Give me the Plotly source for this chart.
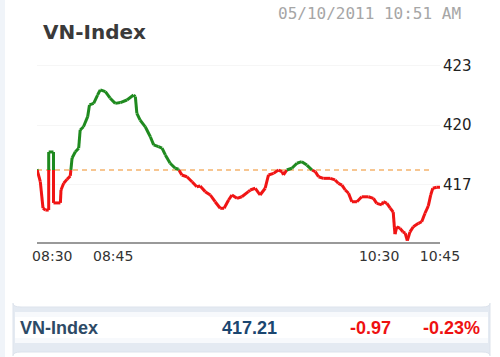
import plotly.graph_objects as go

# ---- data ----
title = "VN-Index"
timestamp = "05/10/2011 10:51 AM"
ref_level = 417.73          # reference (previous close) level, dashed line
seq = [0, 1.1, 2.0, 2.8, 3.9, 3.9, 5.5, 5.5, 7.8, 8.0, 8.9, 10.0, 11.1, 11.7, 12.8, 13.9,
       14.4, 15.5, 16.9, 17.5, 18.9, 20.2, 21.1, 22.8, 24.4, 26.1, 27.8, 30.0, 32.2, 32.8,
       33.3, 34.4, 36.1, 37.8, 38.9, 40.5, 41.7, 42.8, 44.4, 46.1, 47.2, 48.3, 50.0, 51.7,
       53.3, 54.4, 56.1, 57.8, 59.4, 61.1, 62.4, 63.9, 65.0, 66.7, 68.3, 70.5, 71.1, 72.8,
       74.4, 76.1, 77.2, 78.9, 80.5, 81.7, 82.2, 83.3, 85.0, 86.7, 88.3, 90.0, 91.7, 92.8,
       93.9, 95.5, 97.8, 99.4, 100.5, 101.7, 102.8, 103.9, 105.0, 106.7, 108.3, 110.5,
       112.2, 113.3, 115.0, 115.5, 116.7, 117.8, 118.8, 119.2, 119.4, 120.0, 121.1, 122.0,
       122.8, 123.5, 124.4, 125.5, 127.2, 128.3, 129.4, 130.5, 131.3, 132.0, 133.3, 134.4]
index_values = [417.77, 417.14, 415.81, 415.71, 415.71, 418.64, 418.64, 416.07, 416.07, 416.72,
                417.06, 417.26, 417.43, 418.34, 418.65, 418.83, 419.75, 419.91, 420.42, 421.01,
                421.09, 421.51, 421.77, 421.68, 421.35, 421.09, 421.13, 421.26, 421.51, 421.43,
                420.59, 420.25, 419.91, 419.41, 419.00, 418.91, 418.83, 418.49, 418.07, 417.82,
                417.77, 417.48, 417.39, 417.14, 416.89, 416.92, 416.64, 416.47, 416.13, 415.80,
                415.80, 416.22, 416.47, 416.30, 416.38, 416.64, 416.72, 416.81, 416.47, 416.81,
                417.48, 417.56, 417.73, 417.65, 417.48, 417.73, 417.82, 418.07, 418.15, 417.98,
                417.73, 417.65, 417.39, 417.31, 417.31, 417.23, 417.06, 416.97, 416.72, 416.56,
                416.13, 416.13, 416.38, 416.38, 416.30, 416.05, 415.97, 416.13, 416.05, 415.81,
                415.61, 414.81, 414.50, 414.87, 414.79, 414.62, 414.54, 414.17, 414.61, 414.87,
                415.04, 415.12, 415.55, 415.92, 416.47, 416.81, 416.86, 416.86]
x_tick_pos = [5.1, 25.4, 114.1, 134.4]
x_tick_text = ["08:30", "08:45", "10:30", "10:45"]
y_ticks = [417, 420, 423]

summary_name = "VN-Index"
summary_value = "417.21"
summary_change = "-0.97"
summary_pct = "-0.23%"

# ---- split the line into above (green) / below (red) the reference ----
gx, gy, rx, ry = [], [], [], []
for i in range(len(seq) - 1):
    x0, y0, x1, y1 = seq[i], index_values[i], seq[i + 1], index_values[i + 1]
    a0, a1 = y0 >= ref_level, y1 >= ref_level
    if a0 == a1:
        tx, ty = (gx, gy) if a0 else (rx, ry)
        tx += [x0, x1, None]
        ty += [y0, y1, None]
    else:
        t = (ref_level - y0) / (y1 - y0)
        xc = x0 + t * (x1 - x0)
        first = (gx, gy) if a0 else (rx, ry)
        second = (rx, ry) if a0 else (gx, gy)
        first[0].extend([x0, xc, None]); first[1].extend([y0, ref_level, None])
        second[0].extend([xc, x1, None]); second[1].extend([ref_level, y1, None])

fig = go.Figure()
fig.add_trace(go.Scatter(x=[seq[0], seq[-1] - 2.5], y=[ref_level, ref_level], mode="lines",
                         line=dict(color="#f5b46e", width=1.5, dash="5px,4px"),
                         hoverinfo="skip"))
fig.add_trace(go.Scatter(x=rx, y=ry, mode="lines", line=dict(color="#f01414", width=3),
                         connectgaps=False))
fig.add_trace(go.Scatter(x=gx, y=gy, mode="lines", line=dict(color="#1f8a1f", width=3),
                         connectgaps=False))

fig.update_layout(
    width=500, height=357,
    margin=dict(l=37, r=60, t=55, b=115),
    paper_bgcolor="white", plot_bgcolor="white",
    showlegend=False,
    xaxis=dict(range=[0, 134.4], tickvals=x_tick_pos, ticktext=x_tick_text,
               showgrid=False, zeroline=False, showline=True, linecolor="#999999",
               linewidth=2, ticks="", tickfont=dict(family="DejaVu Sans", size=14, color="#333333")),
    yaxis=dict(range=[414.10, 423.53], side="right", tickvals=y_ticks,
               showgrid=True, gridcolor="#f6f6f6", gridwidth=1, zeroline=False,
               ticks="", ticklabelstandoff=2,
               tickfont=dict(family="DejaVu Sans", size=15, color="#222222")),
)

# convert pixel-like geometry to paper coords
W, H = 500, 357
pl, pr, pt, pb = 37, 60, 55, 115
pw, ph = W - pl - pr, H - pt - pb
def px(x): return (x - pl) / pw
def py(y): return (H - pb - y) / ph

# left decorative strip
fig.add_shape(type="rect", xref="paper", yref="paper", x0=px(0), x1=px(5), y0=py(357), y1=py(0),
              fillcolor="#f0f4f9", line=dict(width=0), layer="below")

# summary bar (rounded)
def rr(x0, y0, x1, y1, r):
    return (f"M {x0+r},{y0} L {x1-r},{y0} Q {x1},{y0} {x1},{y0+r} L {x1},{y1-r} "
            f"Q {x1},{y1} {x1-r},{y1} L {x0+r},{y1} Q {x0},{y1} {x0},{y1-r} "
            f"L {x0},{y0+r} Q {x0},{y0} {x0+r},{y0} Z")

fig.add_shape(type="path", xref="paper", yref="paper",
              path=rr(px(13), py(307), px(490), py(352), 0.02),
              fillcolor="#e4eaf2", line=dict(color="#dde3ec", width=1))
fig.add_shape(type="rect", xref="paper", yref="paper",
              x0=px(15), x1=px(488), y0=py(312), y1=py(343),
              fillcolor="#f7f9fc", line=dict(width=0))
fig.add_shape(type="rect", xref="paper", yref="paper",
              x0=px(15), x1=px(488), y0=py(317), y1=py(338),
              fillcolor="#ffffff", line=dict(width=0))

def ann(text, x, y, size, color, family, anchor="left", weight="normal"):
    fig.add_annotation(text=text, xref="paper", yref="paper", x=px(x), y=py(y),
                       xanchor=anchor, yanchor="middle", showarrow=False,
                       font=dict(family=family, size=size, color=color, weight=weight))

ann(title, 41, 32, 20, "#3a3a3a", "DejaVu Sans", weight="bold")
ann(timestamp, 463, 13, 16, "#a6a6a6", "DejaVu Sans Mono", anchor="right")
ann(summary_name, 18, 328, 18, "#2d4a66", "Liberation Sans", weight="bold")
ann(summary_value, 279, 328, 18, "#1b4670", "Liberation Sans", anchor="right", weight="bold")
ann(summary_change, 393, 328, 18, "#ee1111", "Liberation Sans", anchor="right", weight="bold")
ann(summary_pct, 482, 328, 18, "#ee1111", "Liberation Sans", anchor="right", weight="bold")

fig.write_html("out.html")
